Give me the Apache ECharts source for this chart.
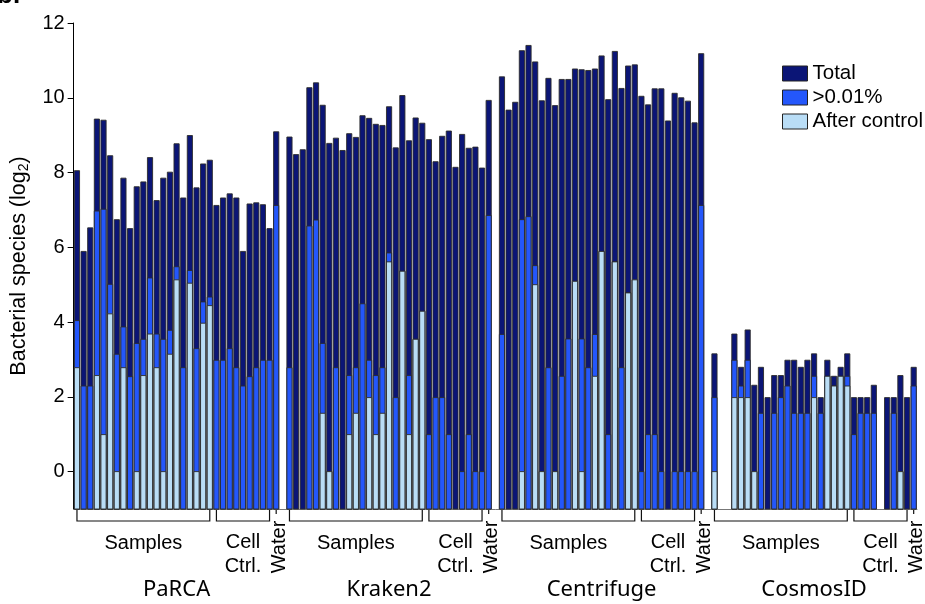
<!DOCTYPE html>
<html>
<head>
<meta charset="utf-8">
<title>Bacterial species</title>
<script src="https://cdn.jsdelivr.net/npm/echarts@6/dist/echarts.min.js"></script>
<style>
html, body { margin: 0; padding: 0; background: #fff; }
#main { width: 925px; height: 604px; }
</style>
</head>
<body>
<div id="main"></div>
<script>
// tools, and the blocks of bars inside each tool
var tools = ['PaRCA', 'Kraken2', 'Centrifuge', 'CosmosID']
var blocks = ['Samples', 'Cell\nCtrl.', 'Water']
var blockSizes = [21, 9, 1]
var seriesNames = ['Total', '>0.01%', 'After control']
var yTicks = [0, 2, 4, 6, 8, 10, 12]

// log2 species counts, one entry per bar: 21 samples, 9 cell controls, 1 water
var totalParca = [8.05, 5.89, 6.52, 9.43, 9.40, 8.45, 6.74, 7.85, 6.50, 7.62, 7.75, 8.40, 7.25, 7.85, 8.01, 8.77, 7.32, 8.99, 7.59, 8.23, 8.33,
  7.12, 7.32, 7.43, 7.32, 5.89, 7.16, 7.19, 7.14, 6.50, 9.09]
var aboveParca = [4.04, 2.29, 2.29, 6.97, 7.02, 5.01, 3.14, 3.87, 2.54, 3.43, 3.54, 5.18, 3.68, 3.54, 3.78, 5.48, 2.78, 5.38, 3.29, 4.54, 4.67,
  2.98, 2.98, 3.29, 2.78, 2.29, 2.54, 2.78, 2.98, 2.98, 7.12]
var afterParca = [2.78, null, null, 2.57, 0.99, 4.22, 0, 2.78, null, 0, 2.57, 3.68, 2.78, 0, 3.14, 5.13, null, 5.04, 0, 3.97, 4.44,
  null, null, null, null, null, null, null, null, null, null]

var totalKraken = [8.95, 8.48, 8.61, 10.27, 10.40, 9.80, 8.78, 8.92, 8.59, 9.04, 8.94, 9.52, 9.45, 9.29, 9.26, 9.76, 8.66, 10.06, 8.85, 9.46, 9.32,
  8.88, 8.29, 8.97, 9.11, 8.14, 9.02, 8.65, 8.68, 8.12, 9.93]
var aboveKraken = [2.78, null, null, 6.57, 6.73, 3.43, 0, 2.78, null, 2.57, 2.78, 4.49, 2.98, 2.57, 2.78, 5.85, 1.98, 5.36, 2.57, 3.54, 4.29,
  0.99, 1.98, 1.98, 0.99, null, 0, 0.99, 0, 0, 6.85]
var afterKraken = [null, null, null, null, null, 1.56, 0, null, null, 0.99, 1.56, null, 1.98, 0.99, 1.56, 5.61, null, 5.36, 0.99, 3.54, 4.29,
  null, null, null, null, null, null, null, null, null, null]

var totalCentrifuge = [10.56, 9.67, 9.88, 11.26, 11.40, 10.96, 9.92, 10.52, 9.79, 10.49, 10.49, 10.77, 10.75, 10.73, 10.77, 11.12, 9.95, 11.24, 10.25, 10.85, 10.88,
  10.04, 9.81, 10.24, 10.24, 9.38, 10.12, 10.00, 9.91, 9.33, 11.18]
var aboveCentrifuge = [3.67, null, null, 6.74, 6.82, 5.51, 0, 2.78, 0, 2.55, 3.55, 5.09, 3.55, 2.78, 3.67, 5.89, 0.99, 5.61, 2.78, 4.78, 5.13,
  0, 0.99, 0.99, 0, null, 0, 0, 0, 0, 7.12]
var afterCentrifuge = [null, null, null, 0, null, 5.00, 0, null, 0, null, null, 5.09, 0, null, 2.55, 5.89, null, 5.61, null, 4.78, 5.13,
  null, null, null, null, null, null, null, null, null, null]

var totalCosmos = [3.15, null, null, 3.68, 2.79, 3.79, 2.31, 2.79, 1.98, 2.57, 2.57, 2.98, 2.98, 2.79, 2.98, 3.15, 1.98, 2.98, 2.55, 2.79, 3.15,
  1.98, 1.98, 1.98, 2.31, null, 1.98, 1.98, 2.57, 1.98, 2.79]
var aboveCosmos = [1.98, null, null, 2.98, 2.29, 2.98, 0, 1.56, null, 1.56, 1.98, 2.29, 1.56, 1.56, 1.56, 2.55, 1.56, 2.55, 2.29, 2.55, 2.55,
  0.99, 1.56, 1.56, 1.56, null, null, 1.56, 0, null, 2.29]
var afterCosmos = [0, null, null, 1.98, 1.98, 1.98, 0, null, null, null, null, null, null, null, null, 1.98, null, 2.55, 2.29, 2.55, 2.29,
  null, null, null, null, null, null, null, 0, null, null]

var Y_MIN = -1
var Y_MAX = 12
var colors = ['#0b1576', '#2457fb', '#b9ddf6']
var FONT = 'Liberation Sans, Arial, sans-serif'

var layers = [
  [totalParca, totalKraken, totalCentrifuge, totalCosmos],
  [aboveParca, aboveKraken, aboveCentrifuge, aboveCosmos],
  [afterParca, afterKraken, afterCentrifuge, afterCosmos]
]

// one category per bar, with an empty slot between tools
var categories = []
var groupStart = []
var layerData = [[], [], []]
tools.forEach(function (tool, t) {
  if (t > 0) categories.push('')
  groupStart.push(categories.length)
  var n = 0
  blocks.forEach(function (b, k) {
    for (var i = 0; i < blockSizes[k]; i++) {
      var idx = categories.length
      categories.push(tool + ' ' + b.replace('\n', ' ') + ' ' + (i + 1))
      layers.forEach(function (layer, s) {
        var v = layer[t][n]
        if (v != null) layerData[s].push([idx, v])
      })
      n++
    }
  })
})

// bars all start at the bottom of the axis and overlap each other
function makeBar(color) {
  return function (params, api) {
    var top = api.coord([api.value(0), api.value(1)])
    var base = api.coord([api.value(0), Y_MIN])
    var w = api.size([1, 0])[0] * 0.78
    return {
      type: 'rect',
      shape: { x: top[0] - w / 2, y: top[1], width: w, height: base[1] - top[1] },
      style: { fill: color, stroke: '#2b2b2b', lineWidth: 0.9 }
    }
  }
}

var chart = echarts.init(document.getElementById('main'))
var option = {
  animation: false,
  backgroundColor: '#fff',
  grid: { left: 70, right: 8, top: 23, bottom: 95 },
  legend: {
    orient: 'vertical',
    left: 782,
    top: 63,
    padding: 0,
    itemWidth: 25,
    itemHeight: 15,
    itemGap: 3,
    icon: 'rect',
    textStyle: { fontSize: 20.5, fontFamily: FONT, color: '#000', lineHeight: 21 },
    data: seriesNames.map(function (name, i) {
      return { name: name, itemStyle: { color: colors[i], borderColor: '#222', borderWidth: 1 } }
    })
  },
  xAxis: {
    type: 'category',
    data: categories,
    axisLine: { onZero: false, lineStyle: { color: '#777', width: 1 } },
    axisTick: { show: false },
    axisLabel: { show: false },
    splitLine: { show: false }
  },
  yAxis: {
    type: 'value',
    min: Y_MIN,
    max: Y_MAX,
    interval: 1,
    name: '{a|Bacterial species (log}{sub|2}{a|)}',
    nameLocation: 'middle',
    nameGap: 36,
    nameTextStyle: {
      rich: {
        a: { fontSize: 21.5, fontFamily: FONT, color: '#000', verticalAlign: 'middle' },
        sub: { fontSize: 14, fontFamily: FONT, color: '#000', verticalAlign: 'middle', padding: [11, 0, 0, 0] }
      }
    },
    axisLine: { show: true, lineStyle: { color: '#000', width: 1 } },
    axisTick: { show: true, length: 6, customValues: yTicks, lineStyle: { color: '#000' } },
    axisLabel: { fontSize: 20, fontFamily: FONT, color: '#000', margin: 9, customValues: yTicks },
    splitLine: { show: false }
  },
  series: seriesNames.map(function (name, i) {
    return {
      name: name,
      type: 'custom',
      renderItem: makeBar(colors[i]),
      itemStyle: { color: colors[i] },
      encode: { x: 0, y: 1 },
      data: layerData[i],
      z: 2 + i
    }
  })
}
chart.setOption(option)

// brackets and labels under the axis
var y0 = chart.convertToPixel({ yAxisIndex: 0 }, Y_MIN)
var els = []
tools.forEach(function (tool, t) {
  var s = groupStart[t]
  blocks.forEach(function (b, k) {
    var x1 = chart.convertToPixel({ xAxisIndex: 0 }, s)
    var x2 = chart.convertToPixel({ xAxisIndex: 0 }, s + blockSizes[k] - 1)
    if (blockSizes[k] > 1) {
      els.push({
        type: 'polyline',
        shape: { points: [[x1, y0], [x1, y0 + 12], [x2, y0 + 12], [x2, y0]] },
        style: { stroke: '#111', lineWidth: 1.2, fill: null }
      })
      els.push({
        type: 'text',
        x: (x1 + x2) / 2,
        y: b === 'Samples' ? 543 : 530,
        style: {
          text: b, font: '20px ' + FONT, fill: '#000',
          align: 'center', verticalAlign: b === 'Samples' ? 'middle' : 'top', lineHeight: 24
        }
      })
    } else {
      els.push({
        type: 'line',
        shape: { x1: x1, y1: y0, x2: x1, y2: y0 + 5 },
        style: { stroke: '#111', lineWidth: 1.2 }
      })
      els.push({
        type: 'text',
        x: x1 + 3,
        y: 547,
        rotation: Math.PI / 2,
        style: { text: b, font: '20px ' + FONT, fill: '#000', align: 'center', verticalAlign: 'middle' }
      })
    }
    s += blockSizes[k]
  })
  var g1 = chart.convertToPixel({ xAxisIndex: 0 }, groupStart[t])
  var g2 = chart.convertToPixel({ xAxisIndex: 0 }, s - 1)
  els.push({
    type: 'text',
    x: (g1 + g2) / 2,
    y: 590,
    style: { text: tool, font: '22px Noto Sans, Open Sans, sans-serif', fill: '#000', align: 'center', verticalAlign: 'middle' }
  })
})
// panel letter, cut by the top edge
els.push({
  type: 'text', x: -3, y: 9,
  style: { text: 'b.', font: 'bold 26px ' + FONT, fill: '#000', align: 'left', verticalAlign: 'bottom' }
})
chart.setOption({ graphic: els })
</script>
</body>
</html>
